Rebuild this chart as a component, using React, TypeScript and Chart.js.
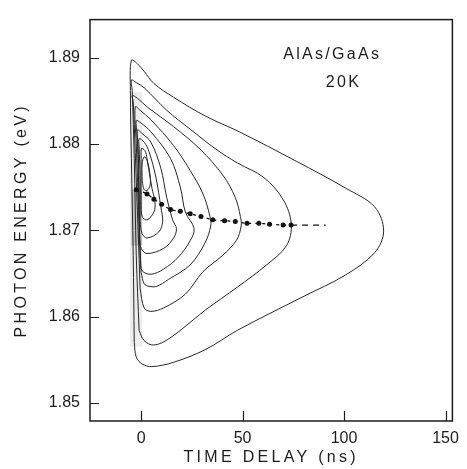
import React, { useEffect, useRef } from 'react';
import { Chart, registerables } from 'chart.js';

Chart.register(...registerables);

// ---- axis ticks ----
const xTicks = [0, 50, 100, 150];
const yTicks = [1.85, 1.86, 1.87, 1.88, 1.89];

// ---- contour lines [time (ns), photon energy (eV)] ----
const contourA = [
  [-3.4, 1.8570], [-3.9, 1.8671], [-4.8, 1.8783], [-5.3, 1.8862], [-4.8, 1.8897],
  [-1.9, 1.8893], [1.5, 1.8884], [6.3, 1.8870], [16.0, 1.8854], [31.9, 1.8832],
  [48.4, 1.8814], [76.4, 1.8780], [100.6, 1.8749], [115.1, 1.8727], [119.5, 1.8699],
  [115.1, 1.8674], [100.6, 1.8648], [79.8, 1.8623], [47.4, 1.8584], [31.9, 1.8562],
  [16.0, 1.8547], [5.3, 1.8542], [0.5, 1.8545], [-2.4, 1.8553], [-3.4, 1.8570],
];
const contourB = [
  [-1.0, 1.8584], [-2.4, 1.8671], [-3.4, 1.8783], [-4.4, 1.8862], [-4.8, 1.8874],
  [-2.4, 1.8871], [1.5, 1.8865], [12.6, 1.8839], [24.2, 1.8817], [36.8, 1.8794],
  [47.4, 1.8778], [60.5, 1.8761], [70.1, 1.8735], [74.0, 1.8707], [71.6, 1.8682],
  [61.9, 1.8660], [47.4, 1.8634], [31.9, 1.8608], [25.6, 1.8596], [13.5, 1.8574],
  [6.3, 1.8567], [1.5, 1.8572], [-1.0, 1.8584],
];
const contourC = [
  [-0.5, 1.8632], [-1.5, 1.8700], [-2.9, 1.8790], [-3.9, 1.8849], [-4.4, 1.8856],
  [-1.9, 1.8853], [2.9, 1.8843], [16.0, 1.8820], [29.0, 1.8794], [40.2, 1.8764],
  [46.4, 1.8738], [48.9, 1.8716], [49.3, 1.8705], [46.9, 1.8688], [40.2, 1.8671],
  [30.5, 1.8652], [21.8, 1.8626], [11.1, 1.8610], [4.8, 1.8606], [1.5, 1.8610],
  [-0.5, 1.8632],
];
const contourD = [
  [0.0, 1.8651], [-1.0, 1.8710], [-2.4, 1.8800], [-2.9, 1.8843], [-0.5, 1.8839],
  [4.8, 1.8828], [16.0, 1.8798], [24.2, 1.8769], [30.5, 1.8742], [33.9, 1.8716],
  [34.3, 1.8705], [31.4, 1.8685], [24.2, 1.8660], [13.5, 1.8643], [7.7, 1.8635],
  [3.9, 1.8635], [1.5, 1.8638], [0.0, 1.8651],
];
const contourE = [
  [-0.5, 1.8665], [-1.0, 1.8727], [-1.9, 1.8810], [-2.4, 1.8827], [0.0, 1.8824],
  [4.8, 1.8814], [14.5, 1.8783], [19.4, 1.8749], [21.8, 1.8721], [26.1, 1.8702],
  [24.2, 1.8688], [18.4, 1.8669], [11.1, 1.8655], [4.8, 1.8649], [0.5, 1.8653],
  [-0.5, 1.8665],
];
const contourF = [
  [-1.0, 1.8693], [-1.0, 1.8749], [-1.5, 1.8795], [-1.9, 1.8816], [0.5, 1.8812],
  [4.8, 1.8802], [9.7, 1.8772], [12.6, 1.8738], [15.5, 1.8712], [17.4, 1.8702],
  [16.0, 1.8691], [11.1, 1.8679], [2.9, 1.8673], [0.0, 1.8679], [-1.0, 1.8693],
];
const contourG = [
  [-0.5, 1.8710], [-0.5, 1.8761], [-1.0, 1.8797], [-1.0, 1.8806], [1.5, 1.8802],
  [3.9, 1.8791], [7.3, 1.8761], [9.7, 1.8727], [10.6, 1.8710], [8.7, 1.8698],
  [2.9, 1.8691], [0.5, 1.8696], [-0.5, 1.8710],
];
const contourH = [
  [0.0, 1.8733], [0.0, 1.8783], [0.2, 1.8795], [1.9, 1.8792], [2.9, 1.8783],
  [5.3, 1.8749], [6.8, 1.8733], [6.3, 1.8721], [2.9, 1.8712], [0.5, 1.8716],
  [0.0, 1.8733],
];
const contourI = [
  [0.5, 1.8757], [0.5, 1.8777], [1.5, 1.8785], [2.9, 1.8781], [4.4, 1.8764],
  [4.4, 1.8752], [2.9, 1.8746], [1.5, 1.8747], [0.5, 1.8757],
];

// ---- peak position vs delay ----
const peakTime = [-2.4, 2.9, 6.3, 10.1, 14.5, 19.3, 24.2, 29.5, 35.3, 41.1, 46.4, 52.2, 58.0, 63.3, 70.0, 73.9];
const peakEnergy = [1.8747, 1.8742, 1.8736, 1.8730, 1.8724, 1.8722, 1.8719, 1.8716, 1.8712, 1.8711, 1.8710, 1.8708, 1.8708, 1.8707, 1.8706, 1.8706];
const extTime = [73.9, 91.0];
const extEnergy = [1.8706, 1.8706];

// ---- excitation-pulse shaded band ----
const bandTime = [-5.5, 0.5, 0.5, -5.5, -5.5];
const bandEnergy = [1.8565, 1.8565, 1.8860, 1.8860, 1.8565];
const pulseTime = [-4.8, 0.5, 0.5, -4.8, -4.8];
const pulseEnergy = [1.8682, 1.8682, 1.8747, 1.8747, 1.8682];

const labels = [
  { text: 'AlAs/GaAs', x: 70, y: 1.8903 },
  { text: '20K', x: 91, y: 1.8871 },
];

const FONT = '"Liberation Sans", Arial, sans-serif';
const INK = '#1c1c1c';

const toPts = (arr: number[][]) => arr.map(([x, y]) => ({ x, y }));
const zip = (xs: number[], ys: number[]) => xs.map((x, i) => ({ x, y: ys[i] }));

const framePlugin = {
  id: 'frame',
  beforeDraw(chart: any) {
    const ctx = chart.ctx;
    Object.values(chart.scales).forEach((s: any) => {
      if (!s.__wrapped) {
        const orig = s.drawTitle.bind(s);
        s.drawTitle = () => {
          ctx.save();
          (ctx as any).letterSpacing = '3.3px';
          orig();
          ctx.restore();
        };
        s.__wrapped = true;
      }
    });
  },
  afterDraw(chart: any) {
    const { ctx, chartArea: a, scales } = chart;
    ctx.save();
    ctx.strokeStyle = INK;
    ctx.lineWidth = 1.5;
    ctx.strokeRect(a.left, a.top, a.right - a.left, a.bottom - a.top);
    ctx.beginPath();
    xTicks.forEach((v) => {
      const px = Math.round(scales.x.getPixelForValue(v)) + 0.5;
      ctx.moveTo(px, a.bottom);
      ctx.lineTo(px, a.bottom - 10);
    });
    yTicks.forEach((v) => {
      const py = Math.round(scales.y.getPixelForValue(v)) + 0.5;
      ctx.moveTo(a.left, py);
      ctx.lineTo(a.left + 9, py);
    });
    ctx.lineWidth = 1.2;
    ctx.stroke();
    ctx.fillStyle = INK;
    ctx.font = `16px ${FONT}`;
    ctx.textAlign = 'left';
    ctx.textBaseline = 'middle';
    (ctx as any).letterSpacing = '2.3px';
    labels.forEach((l) => {
      ctx.fillText(l.text, scales.x.getPixelForValue(l.x), scales.y.getPixelForValue(l.y));
    });
    ctx.restore();
  },
};

export default function App() {
  const ref = useRef<HTMLCanvasElement | null>(null);

  useEffect(() => {
    document.body.style.margin = '0';
    if (!ref.current) return;
    const contours = [contourA, contourB, contourC, contourD, contourE, contourF, contourG, contourH, contourI];
    const datasets: any[] = contours.map((c, i) => ({
      label: `contour ${i + 1}`,
      data: toPts(c),
      showLine: true,
      borderColor: '#262626',
      borderWidth: 1,
      pointRadius: 0,
      tension: 0.35,
      fill: false,
      order: 1,
    }));
    datasets.push({
      label: 'peak energy',
      data: zip(peakTime, peakEnergy),
      showLine: true,
      borderColor: '#111',
      borderWidth: 1.3,
      borderDash: [3, 4],
      pointRadius: 2.5,
      pointBackgroundColor: '#111',
      pointBorderWidth: 0,
      tension: 0.3,
      order: 0,
    });
    datasets.push({
      label: 'peak extrapolation',
      data: zip(extTime, extEnergy),
      showLine: true,
      borderColor: '#111',
      borderWidth: 1.2,
      borderDash: [6, 5],
      pointRadius: 0,
      order: 0,
    });
    datasets.push({
      label: 'band',
      data: zip(bandTime, bandEnergy),
      showLine: true,
      borderWidth: 0,
      borderColor: 'rgba(0,0,0,0)',
      backgroundColor: 'rgba(0,0,0,0.07)',
      fill: 'shape',
      pointRadius: 0,
      order: 10,
    });
    datasets.push({
      label: 'pulse',
      data: zip(pulseTime, pulseEnergy),
      showLine: true,
      borderWidth: 0,
      borderColor: 'rgba(0,0,0,0)',
      backgroundColor: 'rgba(0,0,0,0.18)',
      fill: 'shape',
      pointRadius: 0,
      order: 9,
    });

    const chart = new Chart(ref.current, {
      type: 'scatter',
      data: { datasets },
      options: {
        animation: false,
        responsive: false,
        events: [],
        layout: { padding: { top: 7, right: 8, left: 0, bottom: 0 } },
        plugins: { legend: { display: false }, tooltip: { enabled: false } },
        scales: {
          x: {
            type: 'linear',
            min: -25.2,
            max: 153.4,
            grid: { display: false, drawTicks: false },
            border: { display: false },
            afterBuildTicks: (axis: any) => { axis.ticks = xTicks.map((v) => ({ value: v })); },
            afterFit: (scale: any) => { scale.height = 48; },
            ticks: {
              color: INK,
              font: { family: FONT, size: 16 },
              padding: 8,
              maxRotation: 0,
              callback: (v: any) => String(v),
            },
            title: {
              display: true,
              text: 'TIME DELAY (ns)',
              color: INK,
              font: { family: FONT, size: 16 },
              padding: { top: 0, bottom: 2 },
            },
          },
          y: {
            type: 'linear',
            min: 1.8479,
            max: 1.8944,
            grid: { display: false, drawTicks: false },
            border: { display: false },
            afterBuildTicks: (axis: any) => { axis.ticks = yTicks.map((v) => ({ value: v })); },
            afterFit: (scale: any) => { scale.width = 90; },
            ticks: {
              color: INK,
              font: { family: FONT, size: 16 },
              padding: 10,
              callback: (v: any) => Number(v).toFixed(2),
            },
            title: {
              display: true,
              text: 'PHOTON ENERGY (eV)',
              color: INK,
              font: { family: FONT, size: 16 },
              padding: { top: 12, bottom: 0 },
            },
          },
        },
      },
      plugins: [framePlugin],
    });
    return () => chart.destroy();
  }, []);

  return (
    <div style={{ width: 467, height: 469, background: '#fff' }}>
      <canvas ref={ref} width={467} height={469} style={{ display: 'block' }} />
    </div>
  );
}
